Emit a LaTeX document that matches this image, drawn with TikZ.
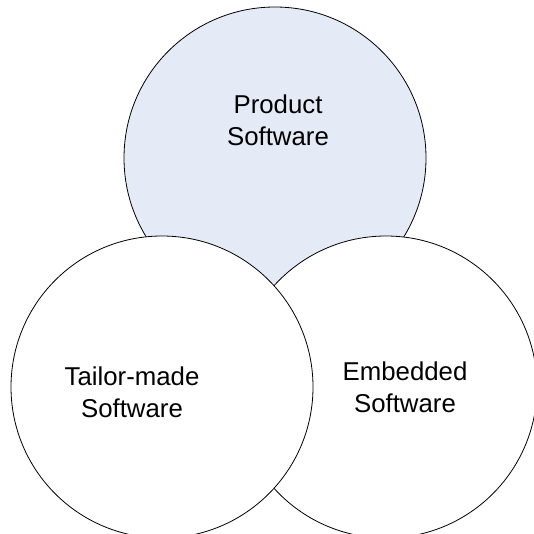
\documentclass[tikz,border=0pt]{standalone}
\usepackage{fontspec}
\setmainfont{Liberation Sans}
\usepackage{tikz}
\definecolor{myproductblue}{RGB}{229,235,246}
\newcommand{\sizecircle}{302pt}
\newcommand{\sizetext}{25.8}
\tikzset{
    common/.style={draw, circle, minimum size=\sizecircle, inner sep=0pt, line width=0.8pt},
    area/.style={common, fill=myproductblue},
    plain/.style={common, fill=white},
    caption/.style={align=center, inner sep=0pt, font=\fontsize{\sizetext}{32}\selectfont}
}

\begin{document}
\begin{tikzpicture}[x=1pt, y=-1pt]
    \useasboundingbox (0,0) rectangle (534,533);
    \clip (0,0) rectangle (534,533);

    % circles, drawn back to front
    \node[area] (product) at (275,158) {};
    \node[plain] (embedded) at (386,387) {};
    \node[plain] (tailor) at (162,387) {};

    % texts
    \node[caption] (product-text) at (278,120) {Product\\Software};
    \node[caption] (tailor-text) at (132,392) {Tailor-made\\Software};
    \node[caption] (embedded-text) at (405,387) {Embedded\\Software};
\end{tikzpicture}
\end{document}
